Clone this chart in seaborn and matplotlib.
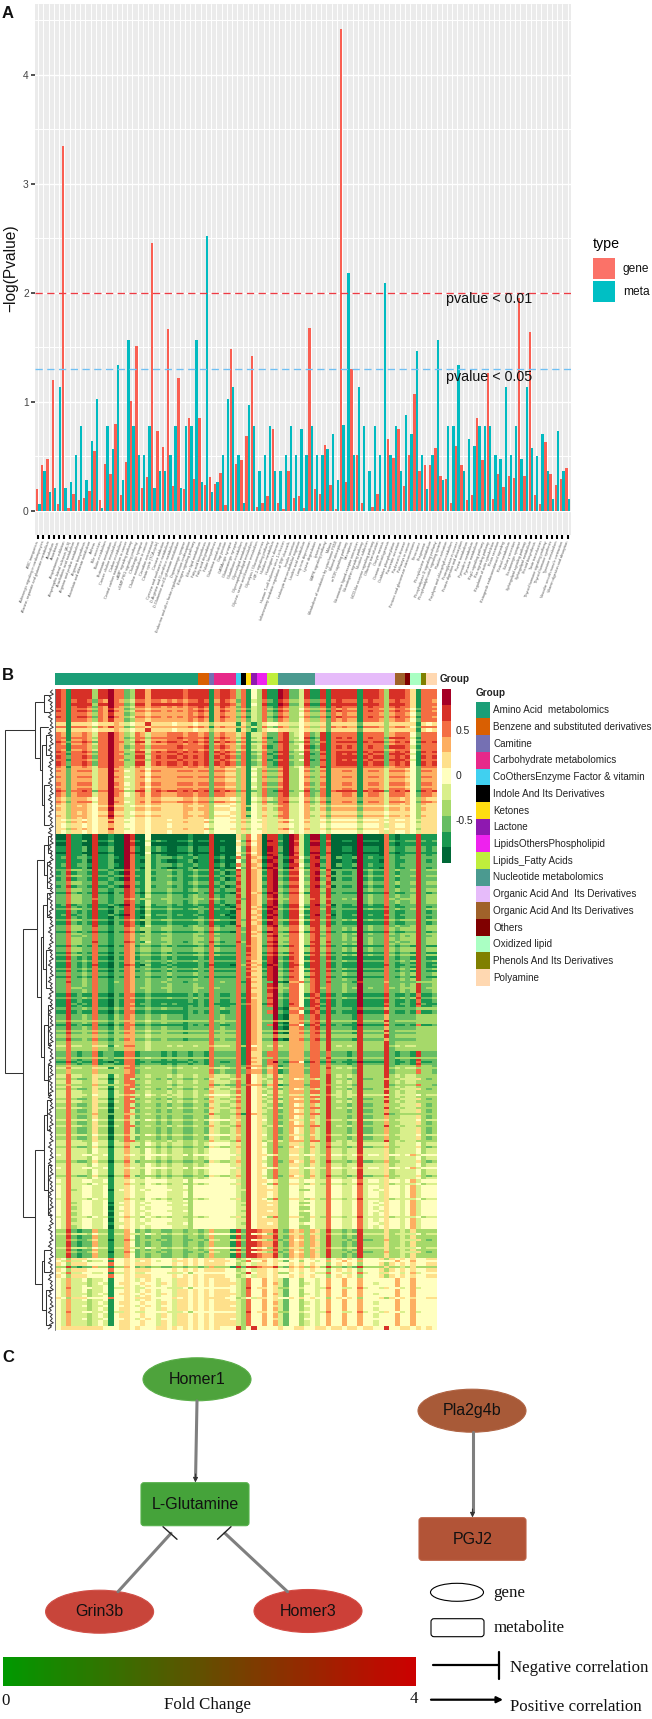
import matplotlib
matplotlib.use('Agg')
from matplotlib.colors import ListedColormap, LinearSegmentedColormap
from matplotlib.patches import Ellipse, FancyBboxPatch, Rectangle
import matplotlib.pyplot as plt
import numpy as np
import pandas as pd
import seaborn as sns

W, H = 652, 1719

# panel A
pathways = [
    'ABC transporters', 'Adrenergic signaling in cardiomyocytes', 'Alanine, aspartate and glutamate metabolism', 'Alcoholism',
    'Amoebiasis', 'Amphetamine addiction', 'Amyotrophic lateral sclerosis (ALS)', 'Arachidonic acid metabolism',
    'Arginine and proline metabolism', 'Arginine biosynthesis', 'Ascorbate and aldarate metabolism', 'Asthma',
    'Bile secretion', 'Biotin metabolism', 'Butanoate metabolism', 'Cancer: choline metabolism', 'Carbon metabolism',
    'Central carbon metabolism in cancer', 'cAMP signaling pathway', 'cGMP-PKG signaling pathway', 'Cholinergic synapse',
    'Choline metabolism in cancer', 'Circadian entrainment', 'Citrate cycle (TCA cycle)', 'Cocaine addiction',
    'Cysteine and methionine metabolism', 'D-Arginine and D-ornithine metabolism', 'D-Glutamine and D-glutamate metabolism',
    'Dopaminergic synapse', 'Endocrine and other factor-regulated calcium reabsorption', 'Estrogen signaling pathway',
    'Ether lipid metabolism', 'Fatty acid biosynthesis', 'Fatty acid degradation', 'Folate biosynthesis',
    'Galactose metabolism', 'Gap junction', 'GABAergic synapse', 'Glutamatergic synapse', 'Glutathione metabolism',
    'Glycerolipid metabolism', 'Glycerophospholipid metabolism', 'Glycine, serine and threonine metabolism',
    'Glycolysis / Gluconeogenesis', 'HIF-1 signaling pathway', 'Histidine metabolism', "Huntington's disease",
    'Human T-cell leukemia virus 1 infection', 'Inflammatory mediator regulation of TRP channels', 'Insulin secretion',
    'Leukocyte transendothelial migration', 'Linoleic acid metabolism', 'Long-term depression', 'Lysine degradation',
    'Lysosome', 'MAPK signaling pathway', 'Malaria', 'Metabolism of xenobiotics by cytochrome P450', 'Mineral absorption',
    'mTOR signaling pathway', 'Necroptosis', 'Neuroactive ligand-receptor interaction', 'Neurotrophin signaling pathway',
    'Nicotine addiction', 'NOD-like receptor signaling pathway', 'Olfactory transduction', 'Oocyte meiosis',
    'Ovarian steroidogenesis', 'Oxidative phosphorylation', 'Pancreatic secretion', "Parkinson's disease",
    'Pathways in cancer', 'Pentose and glucuronate interconversions', 'Peroxisome', 'Phagosome', 'Phenylalanine metabolism',
    'Phospholipase D signaling pathway', 'Phosphatidylinositol signaling system', 'Platelet activation',
    'Porphyrin and chlorophyll metabolism', 'Proteoglycans in cancer', 'Protein digestion and absorption',
    'Purine metabolism', 'Pyrimidine metabolism', 'Pyruvate metabolism', 'Rap1 signaling pathway', 'Ras signaling pathway',
    'Regulation of actin cytoskeleton', 'Renin secretion', 'Retrograde endocannabinoid signaling', 'Retinol metabolism',
    'Salivary secretion', 'Serotonergic synapse', 'Sphingolipid signaling pathway', 'Sphingolipid metabolism',
    'Steroid biosynthesis', 'Taste transduction', 'Thyroid hormone signaling pathway', 'Thyroid hormone synthesis',
    'Tyrosine metabolism', 'Vascular smooth muscle contraction', 'Vitamin digestion and absorption',
]
gene_values = [
    .20, .42, .48, 1.20, .065, 3.35, .03, .16, .10, .115,
    .18, .55, .10, .43, .34, .80, .15, .45, 1.01, 1.51,
    .21, .31, 2.46, .73, .59, 1.67, .23, 1.22, .20, .85,
    .29, .85, .24, .31, .25, .35, .055, 1.49, .43, .47,
    .69, 1.42, .04, .07, .14, .75, .07, .02, .37, .12,
    .14, .03, 1.68, .20, .16, .61, .24, .02, 4.42, .27,
    1.30, .51, .07, .00, .04, .16, .02, .66, .49, .75,
    .23, .51, 1.07, .37, .42, .42, .58, .32, .29, .07,
    .60, .42, .10, .15, .85, .47, 1.27, .11, .34, .22,
    .32, .30, 1.95, .32, 1.64, .15, .06, .63, .34, .24,
    .29, .39,
]
meta_values = [
    .065, .37, .17, .21, 1.14, .21, .27, .51, .78, .28,
    .64, 1.03, .03, .78, .57, 1.34, .28, 1.57, .78, .51,
    .51, .78, .21, .37, .37, .51, .78, .21, .78, .78,
    1.57, .27, 2.52, .17, .27, .51, 1.03, 1.14, .51, .07,
    .97, .78, .37, .51, .78, .37, .37, .51, .78, .51,
    .75, .51, .78, .51, .51, .57, .71, .28, .79, 2.18,
    .51, 1.14, .78, .37, .78, .51, 2.09, .51, .78, .37,
    .88, .71, 1.47, .51, .20, .51, 1.57, .28, .78, .78,
    1.34, .37, .66, .60, .78, .78, .78, .51, .48, 1.14,
    .51, .78, .48, 1.14, .58, .50, .71, .37, .11, .73,
    .37, .11,
]
type_colors = {'gene': '#FA5F52', 'meta': '#00BBC1'}

# panel B, one string per band of rows, 0 = darkest green ... a = darkest red
heat_colors = ['#006837', '#1A9850', '#66BD63', '#A6D96A', '#D9EF8B', '#FFFFBF',
               '#FEE08B', '#FDAE61', '#F46D43', '#D73027', '#A50026']
heat_rows = [
    '9819999399 a882399799 9999899991 8998381539 11a9224911 9199999199 9839998618 88',
    '9818998287 a873488788 7878788981 7987281438 2198334822 8189888189 8838988618 87',
    '8818887387 9772377677 7777787871 7877372438 3287335733 7287877188 8737887528 88',
    '6616666566 6764566966 6656665663 6666163136 5566445644 6266666266 6636666616 56',
    '8717787488 a873487477 7888788782 7877471447 2289345823 9188888188 8837888528 88',
    '8818887388 a872388388 8889888892 8987381348 1289335912 9189898189 8829998418 88',
    '9828898288 a883399489 8998989892 9898281238 2199233922 8189999198 9928989519 89',
    '7727777477 a774477577 7777777772 7766371537 3379335733 7177777177 7747776527 77',
    '8727888477 a875478688 7778887882 8877371438 2289335823 8177887178 8748887528 87',
    '7637776577 a774477677 6666776773 6665471547 4388445734 7277777277 7747767537 66',
    '6637676566 9664566566 6666766673 5556473546 4478445744 6366666366 6656666536 66',
    '6546656566 7665566566 6566666654 5555464556 4466545644 5455555455 5646556546 66',
    '0091100900 100a900500 0000010009 0000638570 9910a941aa 1900000a00 0081011191 11',
    '1191120911 200a810412 1001120119 0100529670 a920a84199 1800110a11 1082112292 12',
    '1291221911 210a811412 2212112119 1201839761 9a2199529a 2802112a12 1182122292 22',
    '2283322922 1229821422 2322123229 2122939762 9a32885399 3922222a23 2282322392 33',
    '1192121911 0219810311 1211111219 1110839671 a921994199 2912111a11 1192112292 12',
    '2283322822 1228723322 3322223328 3222829762 8933885389 3822323a23 2283233392 33',
    '1192121811 0218712211 2121111218 1111828761 9a21985199 2912111a11 1182122192 11',
    '2282232822 1228722322 2322223228 2222829662 9a32885389 2822322a22 2282232392 23',
    '1191211811 0218811211 1111121218 2112819762 8a21885198 1912111a11 1192112181 12',
    '2292232822 1328722322 3222122228 2322819762 2a10778289 2922221922 2272222233 33',
    '3383333733 2337733433 3333333338 3333819763 3833777388 3933333933 3392333333 33',
    '2282122812 2118812222 1212212218 2222819662 8822777288 2822212922 2292122192 22',
    '3373333733 3337823333 3323333338 2322828772 7812777288 3833332933 3392333383 32',
    '4484433644 1438833433 3434334337 4443839563 4843777388 3934343933 3393434433 33',
    '3383223633 0338423332 3233223326 4334739564 3823756374 3933323922 3373344463 23',
    '4484443544 1447443543 4344334345 5554639565 3833664364 3844344944 4463444453 44',
    '5484455445 1446544555 5444535555 5555439566 5633554554 4855445845 5465545745 55',
    '5483455445 0456545455 5544435555 5555449566 6633553354 4855445845 4565545745 55',
    '3392122733 1337523233 2233233237 3331929987 7932767376 3933232933 3363343633 33',
    '6536665555 8556566655 5565656566 6655345466 5655656565 5356565355 5636565655 66',
    '5474453445 1556545654 5546656565 6665438557 5642553554 5755755755 5555755755 55',
    '5474443454 1566556554 6546656565 6666438557 5742553454 5755755755 4555755755 55',
    '5666666665 5566565556 6565656565 6555935955 5565566556 6566566566 5595566565 65',
]
# which band each heatmap row shows, top to bottom
heat_row_band = [
    0, 0, 0, 0, 0, 1, 1, 0, 1, 2, 1, 2, 2, 1, 2, 2, 3, 3, 2, 3, 3,
    4, 4, 5, 4, 6, 4, 5, 5, 4, 6, 5, 6, 6, 5, 6, 6, 4,
    7, 8, 7, 7, 8, 7, 7, 8, 8, 7, 8, 6, 8, 8, 9, 9, 8, 9, 10, 9, 9,
    10, 10, 9, 10, 11, 10, 11, 11, 10, 11, 11,
    12, 12, 12, 13, 12, 12, 13, 13, 13, 12, 13, 14, 13, 13,
    14, 14, 13, 15, 14, 14, 15, 14, 14,
    15, 15, 14, 15, 15, 16, 15, 15, 17, 15, 15, 14,
    16, 15, 16, 16, 14, 16, 17, 16, 16, 15,
    17, 17, 16, 17, 19, 17, 17, 15, 17, 18, 17, 17,
    18, 17, 18, 18, 19, 18, 16, 18, 19, 18,
    19, 19, 18, 19, 21, 19, 19, 17, 19, 19,
    20, 20, 19, 20, 20, 18, 20, 21, 20, 20, 21,
    21, 21, 22, 21, 20, 21, 21, 22, 21,
    22, 22, 21, 22, 22, 25, 22, 22, 23,
    23, 23, 22, 23, 20, 23, 24, 25, 24, 24,
    25, 25, 26, 25, 25, 24, 25, 26, 25, 25, 27, 25, 26, 25,
    26, 26, 25, 26, 26, 22, 26, 26, 27, 26, 26, 25, 26, 26, 26, 27, 26, 26, 25,
    27, 27, 26, 27, 27, 27, 28, 27, 27, 26, 27, 27, 28, 27, 27, 27, 26, 27,
    28, 28, 27, 28, 28, 29, 28, 28, 28, 27, 28, 29, 28,
    29, 29, 28, 29, 29, 27, 29, 29, 28, 29, 29,
    30, 30, 27, 30, 30, 26, 30, 30, 30, 27, 30, 26, 30, 30,
    31, 32, 31, 31, 30, 31, 31, 28, 31, 31,
    32, 32, 33, 32, 28, 32, 32, 33, 32, 31, 32,
    33, 33, 32, 33, 33, 28, 33, 33, 32, 33, 33, 33, 34, 34,
]
group_names = ['Amino Acid  metabolomics', 'Benzene and substituted derivatives', 'Camitine', 'Carbohydrate metabolomics',
               'CoOthersEnzyme Factor & vitamin', 'Indole And Its Derivatives', 'Ketones', 'Lactone',
               'LipidsOthersPhospholipid', 'Lipids_Fatty Acids', 'Nucleotide metabolomics',
               'Organic Acid And  Its Derivatives', 'Organic Acid And Its Derivatives', 'Others', 'Oxidized lipid',
               'Phenols And Its Derivatives', 'Polyamine']
group_sizes = [27, 2, 1, 4, 1, 1, 1, 1, 2, 2, 7, 15, 2, 1, 2, 1, 2]
group_colors = ['#1B9E77', '#D95F02', '#7570B3', '#E7298A', '#40D0F0', '#000000', '#FFDD11', '#8E18B0', '#EE22EE',
                '#BFEE3C', '#4B9A90', '#E6BBFA', '#A0622A', '#800000', '#AAFFC3', '#808000', '#FFD8B1']
# (x, top y, bottom y, top child x, bottom child x)
clades = [
    (4.7, 730, 1072.7, 35, 23.3), (35, 701.7, 758.3, 44, 40), (44, 695, 711.7, 49, 49),
    (40, 727, 770, 48, 41.7), (41.7, 745, 805, 46, 44), (46, 735, 755, 50, 50), (44, 785, 825, 49, 49),
    (23.3, 929, 1217, 36.7, 35), (36.7, 860, 997, 44, 41), (44, 845, 875, 48, 47), (48, 836, 853, 51, 51),
    (47, 862, 888, 50, 50), (41, 937, 1057, 43, 44), (43, 905, 969, 47, 46), (47, 893, 917, 51, 51),
    (46, 950, 988, 50, 50), (44, 1025, 1080, 48, 48), (48, 1005, 1045, 51, 51), (48, 1065, 1095, 51, 51),
    (35, 1150, 1284, 44, 41.7), (44, 1115, 1190, 47, 48), (47, 1100, 1130, 51, 50), (48, 1165, 1215, 51, 51),
    (41.7, 1261, 1310, 44, 46), (44, 1250, 1272, 50, 50), (46, 1290, 1325, 51, 51),
]
leaf_lengths = [3, 5, 2, 6, 4, 7, 3, 5]


def axes_px(x0, y0, x1, y1):
    return fig.add_axes([x0 / W, 1 - y1 / H, (x1 - x0) / W, (y1 - y0) / H])


sns.set_theme(style='darkgrid', rc={'axes.facecolor': '#EBEBEB', 'grid.color': 'white'})
plt.rcParams['font.family'] = ['Liberation Sans', 'DejaVu Sans']
serif = ['Liberation Serif', 'DejaVu Serif']

fig = plt.figure(figsize=(W / 100, H / 100), dpi=100)

# A - bars
ax = axes_px(35, 4, 570.7, 535)
df = pd.DataFrame({'pathway': pathways * 2,
                   'type': ['gene'] * len(pathways) + ['meta'] * len(pathways),
                   'value': gene_values + meta_values})
sns.barplot(data=df, x='pathway', y='value', hue='type', order=pathways, palette=type_colors,
            width=0.9, saturation=1, errorbar=None, legend=False, linewidth=0, ax=ax)
ax.set_xlim(-0.6, len(pathways) - 0.4)
ax.set_ylim(-0.22, 4.65)
ax.set_yticks([0, 1, 2, 3, 4])
ax.set_yticks([0.5, 1.5, 2.5, 3.5, 4.5], minor=True)
ax.grid(True, which='major', color='white', lw=0.95)
ax.grid(True, which='minor', axis='y', color='white', lw=0.7)
ax.grid(True, axis='x', color='white', lw=0.7)
ax.set_axisbelow(True)
for s in ax.spines.values():
    s.set_visible(False)
ax.axhline(2, color='#EE3B44', lw=0.95, dashes=(5.5, 3.4))
ax.axhline(1.3, color='#6EC0F5', lw=0.95, dashes=(5.5, 3.4))
ax.set_xlabel('')
ax.set_ylabel('')
ax.tick_params(axis='y', which='major', length=3, width=1.2, color='#333333', labelcolor='#444444', labelsize=7.4, pad=1.5, left=True)
ax.tick_params(axis='y', which='minor', length=0)
ax.tick_params(axis='x', length=3, width=1.5, color='black', pad=1.5, bottom=True)
ax.set_xticks(range(len(pathways)))
ax.set_xticklabels(pathways, rotation=70, ha='right', va='center', rotation_mode='anchor', fontsize=2.7, color='#555555')

# B - heatmap
level_rows = np.array([[int(c, 16) for c in r.replace(' ', '')] for r in heat_rows])
heat_matrix = (level_rows[heat_row_band] - 5) * 0.177
heat_cmap = ListedColormap(heat_colors)
ax = axes_px(55.3, 689, 437, 1330)
sns.heatmap(heat_matrix, cmap=heat_cmap, vmin=-0.97, vmax=0.97, cbar=False, xticklabels=False, yticklabels=False, ax=ax)

ax = axes_px(55.3, 673.3, 437, 685.3)
group_idx = np.repeat(np.arange(len(group_sizes)), group_sizes)[None, :]
sns.heatmap(group_idx, cmap=ListedColormap(group_colors), vmin=-0.5, vmax=len(group_sizes) - 0.5, cbar=False,
            xticklabels=False, yticklabels=False, ax=ax)

ax = axes_px(442.3, 689, 451.3, 863.3)
sns.heatmap((np.arange(10, -1, -1)[:, None] - 5) * 0.177, cmap=heat_cmap, vmin=-0.97, vmax=0.97, cbar=False,
            xticklabels=False, yticklabels=False, ax=ax)

# C - fold change scale
ax = axes_px(2.5, 1657.3, 416, 1685.7)
fold_cmap = LinearSegmentedColormap.from_list('fold', ['#009900', '#CC0000'])
sns.heatmap(np.linspace(0, 4, 128)[None, :], cmap=fold_cmap, cbar=False, xticklabels=False, yticklabels=False, ax=ax)

# everything drawn in pixel positions goes on one overlay
ov = fig.add_axes([0, 0, 1, 1], facecolor='none')
ov.set_xlim(0, W)
ov.set_ylim(H, 0)
ov.axis('off')
ov.grid(False)

ov.text(11, 268, '\u2212log(Pvalue)', rotation=90, ha='center', va='center', fontsize=11.2, color='#111111')
ov.text(445.7, 299, 'pvalue < 0.01', ha='left', va='center', fontsize=10.3, color='#111111')
ov.text(445.7, 377, 'pvalue < 0.05', ha='left', va='center', fontsize=10.3, color='#111111')
ov.text(592.7, 244, 'type', ha='left', va='center', fontsize=10.3, color='black')
for i, name in enumerate(['gene', 'meta']):
    ov.add_patch(Rectangle((593, 258 + i * 23), 22, 21.5, fc='#FB7268' if i == 0 else '#00BFC4', ec='none'))
    ov.text(622.7, 269 + i * 23, name, ha='left', va='center', fontsize=8.6, color='#111111')

for letter, lx, ly in [('A', 2, 13), ('B', 2, 675), ('C', 2, 1358)]:
    ov.text(lx, ly, letter, ha='left', va='center', fontsize=12, fontweight='bold', color='#111111')

# heatmap legends
ov.text(440, 679.3, 'Group', ha='left', va='center', fontsize=7.2, fontweight='bold', color='#222222')
for label, ly in [('0.5', 730.7), ('0', 775.7), ('-0.5', 820.7)]:
    ov.text(455.5, ly, label, ha='left', va='center', fontsize=7.4, color='#222222')
ov.text(476, 693.3, 'Group', ha='left', va='center', fontsize=7.2, fontweight='bold', color='#222222')
for i, (name, color) in enumerate(zip(group_names, group_colors)):
    ov.add_patch(Rectangle((476, 701.7 + i * 16.72), 13.7, 16.72, fc=color, ec='none'))
    ov.text(493, 710.3 + i * 16.72, name, ha='left', va='center', fontsize=7.1, color='#222222')

# dendrogram
dcol = '#333333'
for x, y1, y2, cx1, cx2 in clades:
    ov.plot([cx1, x, x, cx2], [y1, y1, y2, y2], color=dcol, lw=0.75, solid_joinstyle='miter')
leaf_y = 689 + (np.arange(len(heat_row_band)) + 0.5) * 641 / len(heat_row_band)
leaf_x = [55.3 - leaf_lengths[i % len(leaf_lengths)] for i in range(len(leaf_y))]
ov.plot(leaf_x, leaf_y, color=dcol, lw=0.7)
ov.plot([55] * 2, [689, 1330], color='#777777', lw=0.7)


# network
def node_ellipse(cx, cy, w, h, fc, ec, label):
    ov.add_patch(Ellipse((cx, cy), w, h, fc=fc, ec=ec, lw=0.8))
    if label:
        ov.text(cx, cy, label, ha='center', va='center', fontsize=11.5, color='#111111')


def node_box(x0, y0, x1, y1, fc, ec, label):
    ov.add_patch(FancyBboxPatch((x0, y0), x1 - x0, y1 - y0, boxstyle='round,pad=0,rounding_size=3', fc=fc, ec=ec, lw=0.8))
    if label:
        ov.text((x0 + x1) / 2, (y0 + y1) / 2, label, ha='center', va='center', fontsize=11.5, color='#111111')


def arrow(x0, y0, x1, y1, col, lw, scale):
    ov.annotate('', xy=(x1, y1), xytext=(x0, y0), arrowprops=dict(arrowstyle='-|>', color=col, lw=lw, mutation_scale=scale, shrinkA=0, shrinkB=0))


edge = '#7F7F7F'
ov.plot([197, 195.6], [1401, 1476], color=edge, lw=2.2)
arrow(195.6, 1474, 195.4, 1482.5, '#333333', 0.8, 7)
ov.plot([472.5, 472.5], [1432.3, 1511], color=edge, lw=2.2)
arrow(472.5, 1509, 472.5, 1517.5, '#333333', 0.8, 7)
ov.plot([118, 171], [1591.7, 1533.3], color=edge, lw=2.2)
ov.plot([163, 177], [1526.7, 1539.3], color='#222222', lw=1)
ov.plot([287.5, 225], [1591.7, 1533.3], color=edge, lw=2.2)
ov.plot([231, 217.5], [1526.7, 1539.3], color='#222222', lw=1)

node_ellipse(197, 1379.3, 108, 43, '#4EA33C', '#5AAE48', 'Homer1')
node_box(141, 1482.7, 249, 1525.7, '#45A33A', '#55B04A', 'L-Glutamine')
node_ellipse(99.6, 1611.7, 108, 43, '#C8453A', '#D05048', 'Grin3b')
node_ellipse(308, 1611, 108, 43, '#CC4038', '#D44C44', 'Homer3')
node_ellipse(472, 1410.7, 108, 43, '#A85A38', '#B06444', 'Pla2g4b')
node_box(419, 1517.7, 526, 1560.3, '#B25437', '#BC6044', 'PGJ2')
node_ellipse(457, 1592.3, 53, 18, 'white', 'black', '')
node_box(431, 1618.7, 484, 1636.7, 'white', 'black', '')

for label, tx, ty, ha in [('gene', 493, 1592.7, 'left'), ('metabolite', 494, 1628, 'left'),
                          ('Negative correlation', 510, 1667.7, 'left'), ('Positive correlation', 510, 1707.3, 'left'),
                          ('0', 5.6, 1701, 'center'), ('Fold Change', 208, 1704.7, 'center'), ('4', 414, 1699, 'center')]:
    ov.text(tx, ty, label, ha=ha, va='center', fontsize=12.2, family=serif, color='#111111')

ov.plot([433, 499], [1665, 1665], color='black', lw=1.6)
ov.plot([499, 499], [1652.3, 1679.3], color='black', lw=1.6)
arrow(431, 1699.7, 503, 1699.7, 'black', 1.6, 9)

fig.savefig('out.png', dpi=100)
